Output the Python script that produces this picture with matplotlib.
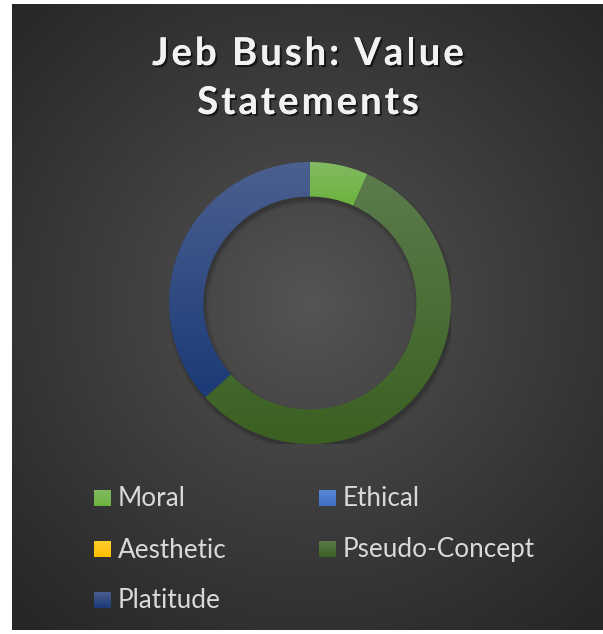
import matplotlib
matplotlib.use("Agg")
import matplotlib.pyplot as plt
import matplotlib.patches as mpatches
import matplotlib.patheffects as pe
import numpy as np
from matplotlib.colors import LinearSegmentedColormap, to_rgb

# ── data ─────────────────────────────────────────────────────────────────────
CATEGORIES = ["Moral", "Ethical", "Aesthetic", "Pseudo-Concept", "Platitude"]
COUNTS     = [2, 0, 0, 17, 11]

# top / bottom colours of each slice's gradient fill
GRAD_TOP    = ["#82ba62", "#5b8ad6", "#ffcd33", "#5b7b4c", "#4c608f"]
GRAD_BOTTOM = ["#6cb33e", "#3f6fc4", "#ffbf00", "#3b6021", "#1b3a77"]

TITLE_LINES = ["Jeb Bush: Value", "Statements"]

W, H = 603, 634
fig = plt.figure(figsize=(W / 100, H / 100), dpi=100)
fig.patch.set_facecolor("white")
renderer = fig.canvas.get_renderer()

# ── dark radial background ───────────────────────────────────────────────────
bg = fig.add_axes([12 / W, 4 / H, (W - 12) / W, (H - 8) / H])
bg.set_axis_off()
yy, xx = np.mgrid[0:626, 0:591]
r = np.hypot(xx - 297, yy - 300) / 430
r = np.clip(r, 0, 1)
c0, c1 = np.array(to_rgb("#555555")), np.array(to_rgb("#262626"))
img = c0 + (c1 - c0) * r[..., None] ** 0.9
bg.imshow(img, aspect="auto", extent=(0, 1, 0, 1), origin="upper")
bg.set_xlim(0, 1)
bg.set_ylim(0, 1)


def text_width(s, **kw):
    t = fig.text(0, 0, s, **kw)
    w = t.get_window_extent(renderer).width
    t.remove()
    return w


def tracked_text(xc, y, s, spacing, **kw):
    """Centered text with extra letter spacing (pixels)."""
    total = text_width(s, **kw) + spacing * (len(s) - 1)
    x0 = xc - total / 2
    for i, ch in enumerate(s):
        if ch == " ":
            continue
        dx = text_width(s[:i], **kw) if i else 0
        fig.text((x0 + dx + i * spacing) / W, 1 - y / H, ch,
                 ha="left", va="baseline", **kw)


# ── title ────────────────────────────────────────────────────────────────────
title_kw = dict(fontsize=27.5, fontweight="bold", family="Lato", color="#f2f2f2",
                path_effects=[pe.withSimplePatchShadow(offset=(1.5, -1.5),
                                                       shadow_rgbFace="black", alpha=0.6),
                              pe.Normal()])
for line, yb in zip(TITLE_LINES, [65, 114]):
    tracked_text(308, yb, line, 3.0, **title_kw)

# ── donut ────────────────────────────────────────────────────────────────────
cx, cy, R = 310, 303, 141
ax = fig.add_axes([(cx - R) / W, (H - cy - R) / H, 2 * R / W, 2 * R / H])
ax.set_axis_off()
ring = 0.245

# soft drop shadow under the ring
for k, a in enumerate([0.10, 0.08, 0.06]):
    sh = mpatches.Wedge((0.012, -0.025), 1.0 + 0.012 * k, 0, 360,
                        width=ring + 0.024 * k, color="black", alpha=a, lw=0)
    ax.add_patch(sh)

wedges, _ = ax.pie(COUNTS, startangle=90, counterclock=False,
                   wedgeprops=dict(width=ring, linewidth=0))
for w, top, bot in zip(wedges, GRAD_TOP, GRAD_BOTTOM):
    if w.theta1 == w.theta2:
        continue
    w.set_facecolor("none")
    ext = w.get_path().get_extents()
    cmap = LinearSegmentedColormap.from_list("g", [bot, top])
    grad = np.linspace(0, 1, 256)[:, None]
    im = ax.imshow(grad, cmap=cmap, aspect="auto", origin="lower",
                   extent=(ext.x0, ext.x1, ext.y0, ext.y1), zorder=2)
    im.set_clip_path(w)
ax.set_xlim(-1, 1)
ax.set_ylim(-1, 1)

# ── legend ───────────────────────────────────────────────────────────────────
col_x = [94, 319]
row_y = [498, 549, 600]
sw = 17
for i, (lab, top, bot) in enumerate(zip(CATEGORIES, GRAD_TOP, GRAD_BOTTOM)):
    x0 = col_x[i % 2]
    y0 = row_y[i // 2]
    lax = fig.add_axes([x0 / W, (H - y0 - sw / 2) / H, sw / W, sw / H])
    lax.set_axis_off()
    cmap = LinearSegmentedColormap.from_list("g", [bot, top])
    lax.imshow(np.linspace(0, 1, 64)[:, None], cmap=cmap, aspect="auto",
               origin="lower", extent=(0, 1, 0, 1))
    fig.text((x0 + 24) / W, 1 - (y0 + 1) / H, lab, ha="left", va="center",
             fontsize=18.8, family="Lato", color="#d9d9d9")

fig.savefig("out.png", dpi=100)
